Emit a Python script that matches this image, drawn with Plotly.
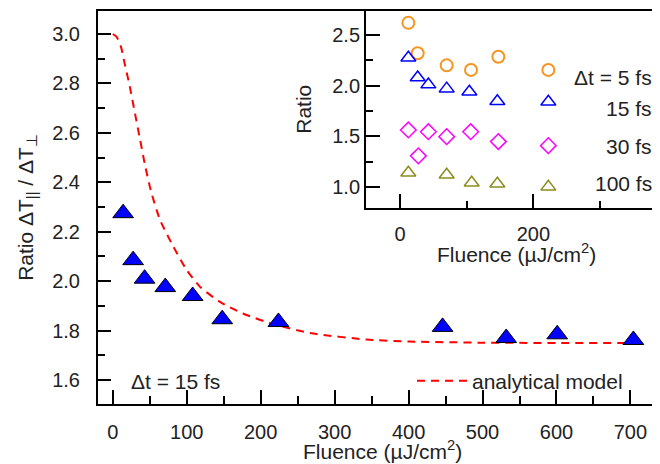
import plotly.graph_objects as go

# ---- main panel data (Δt = 15 fs) ----
main_fluence = [14, 27.5, 43, 71, 108, 148, 224, 446, 532, 601, 704]
main_ratio = [2.275, 2.085, 2.01, 1.976, 1.94, 1.846, 1.835, 1.815, 1.77, 1.785, 1.762]

# analytical model curve
model_fluence = [0, 5, 11, 16, 23, 30, 37, 44, 52, 64, 82, 100, 118, 145, 176, 217, 271, 343, 400, 500, 600, 705]
model_ratio = [3.0, 2.989, 2.949, 2.881, 2.787, 2.679, 2.571, 2.463, 2.36, 2.247, 2.139, 2.045,
               1.977, 1.916, 1.869, 1.826, 1.788, 1.764, 1.756, 1.751, 1.75, 1.75]

# ---- inset data ----
inset_5_x = [12.5, 26.5, 70, 106.5, 147.5, 222.5]
inset_5_y = [2.62, 2.32, 2.20, 2.155, 2.285, 2.155]
inset_15_x = [12.5, 26.5, 42.5, 70, 104, 146, 222.5]
inset_15_y = [2.275, 2.08, 2.01, 1.97, 1.94, 1.845, 1.84]
inset_30_x = [12.5, 27.5, 42.5, 70, 106, 147.5, 222.5]
inset_30_y = [1.562, 1.306, 1.545, 1.496, 1.545, 1.447, 1.407]
inset_100_x = [12.5, 70, 107.5, 146, 222.5]
inset_100_y = [1.14, 1.12, 1.04, 1.03, 1.0]

inset_labels = ["\u0394t = 5 fs", "15 fs", "30 fs", "100 fs"]
x_title = "Fluence (\u00b5J/cm<sup>2</sup>)"

FONT = "Liberation Sans, Arial, sans-serif"
TXT = "#222"
ORANGE = "#F7931E"
BLUE = "#0000FF"
MAGENTA = "#FF00FF"
OLIVE = "#8C8C1E"

fig = go.Figure()

fig.add_trace(go.Scatter(
    x=model_fluence, y=model_ratio, mode="lines", name="analytical model",
    line=dict(color="#FF0000", width=2, dash="8px,6px", shape="spline", smoothing=0.6),
    showlegend=True, xaxis="x", yaxis="y"))

fig.add_trace(go.Scatter(
    x=main_fluence, y=main_ratio, mode="markers", showlegend=False,
    marker=dict(symbol="triangle-up", size=18, color=BLUE, line=dict(color="black", width=1)),
    xaxis="x", yaxis="y"))

# inset traces
fig.add_trace(go.Scatter(x=inset_5_x, y=inset_5_y, mode="markers", showlegend=False,
    marker=dict(symbol="circle-open", size=12, color=ORANGE, line=dict(width=2)),
    xaxis="x2", yaxis="y2"))
fig.add_trace(go.Scatter(x=inset_15_x, y=inset_15_y, mode="markers", showlegend=False,
    marker=dict(symbol="triangle-up-open", size=13, color=BLUE, line=dict(width=1.5)),
    xaxis="x2", yaxis="y2"))
fig.add_trace(go.Scatter(x=inset_30_x, y=inset_30_y, mode="markers", showlegend=False,
    marker=dict(symbol="diamond-open", size=12, color=MAGENTA, line=dict(width=1.5)),
    xaxis="x2", yaxis="y2"))
fig.add_trace(go.Scatter(x=inset_100_x, y=inset_100_y, mode="markers", showlegend=False,
    marker=dict(symbol="triangle-up-open", size=13, color=OLIVE, line=dict(width=1.5)),
    xaxis="x2", yaxis="y2"))

axis_common = dict(showline=True, linecolor="black", linewidth=2, ticks="inside",
                   tickcolor="black", tickwidth=2, showgrid=False, zeroline=False,
                   automargin=False,
                   tickfont=dict(family=FONT, size=20, color=TXT))

# page body has an 8px margin: figure is 652x456 placed at (8,8) in the 660x464 window
fig.update_layout(
    width=652, height=456,
    margin=dict(l=90, r=0, t=3, b=60, autoexpand=False),
    paper_bgcolor="white", plot_bgcolor="white",
    font=dict(family=FONT, size=20, color=TXT),
    xaxis=dict(**axis_common, domain=[0, 1], range=[-20, 740], dtick=100, tick0=0,
               ticklen=14, mirror=True, ticklabelstandoff=9,
               minor=dict(dtick=50, ticklen=8, ticks="inside", tickwidth=2, tickcolor="black")),
    yaxis=dict(**axis_common, domain=[0, 1], range=[1.503, 3.093], dtick=0.2, tick0=1.6,
               tickformat=".1f", ticklen=13, ticklabelstandoff=12,
               minor=dict(dtick=0.1, ticklen=7, ticks="inside", tickwidth=2, tickcolor="black"),
               title=dict(text="Ratio \u0394T<sub>||</sub> / \u0394T<sub>\u22a5</sub>", font=dict(size=21), standoff=13)),
    xaxis2=dict(**axis_common, domain=[0.4769, 1.0], range=[-51, 390], dtick=200, tick0=0,
                ticklen=14, mirror=True, anchor="y2", ticklabelstandoff=7,
                minor=dict(dtick=100, ticklen=7, ticks="inside", tickwidth=2, tickcolor="black")),
    yaxis2=dict(**axis_common, domain=[0.5, 1.0], range=[0.796, 2.737], dtick=0.5, tick0=1.0,
                tickformat=".1f", ticklen=14, anchor="x2",
                minor=dict(dtick=0.25, ticklen=7, ticks="inside", tickwidth=2, tickcolor="black"),
                title=dict(text="Ratio", font=dict(size=21), standoff=15)),
    legend=dict(x=(412 - 98) / 562, y=(404 - 381) / 393, xanchor="left", yanchor="middle",
                bgcolor="rgba(0,0,0,0)", font=dict(family=FONT, size=21, color=TXT),
                itemwidth=50),
)

# x-axis titles (main and inset)
fig.add_annotation(text=x_title, xref="paper", yref="paper",
                   x=(382 - 98) / 562, y=(404 - 450) / 393,
                   xanchor="center", yanchor="middle", showarrow=False,
                   font=dict(family=FONT, size=21, color=TXT))
fig.add_annotation(text=x_title, xref="paper", yref="paper",
                   x=(516 - 98) / 562, y=(404 - 253) / 393,
                   xanchor="center", yanchor="middle", showarrow=False,
                   font=dict(family=FONT, size=21, color=TXT))

# inset series labels
label_y_px = [77.3, 108.3, 146.7, 183.3]
for txt, ypx in zip(inset_labels, label_y_px):
    fig.add_annotation(text=txt, xref="paper", yref="paper",
                       x=(654 - 98) / 562, y=(404 - ypx) / 393,
                       xanchor="right", yanchor="middle", showarrow=False,
                       font=dict(family=FONT, size=21, color=TXT))

fig.add_annotation(text="\u0394t = 15 fs", xref="paper", yref="paper",
                   x=(129 - 98) / 562, y=(404 - 381) / 393,
                   xanchor="left", yanchor="middle", showarrow=False,
                   font=dict(family=FONT, size=21, color=TXT))

fig.write_html("out.html")
